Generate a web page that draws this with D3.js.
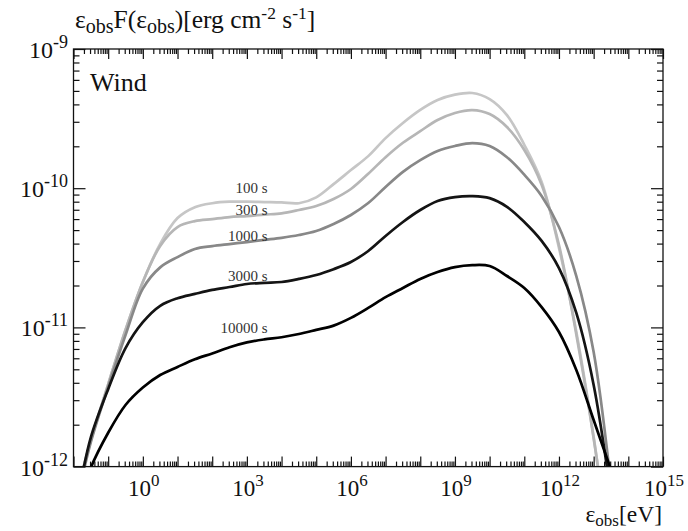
<!DOCTYPE html>
<html>
<head>
<meta charset="utf-8">
<script src="https://cdn.jsdelivr.net/npm/d3@7"></script>
<style>
  body { margin: 0; background: #fff; }
  text, tspan { font-family: "Liberation Serif", "Times New Roman"; }
</style>
</head>
<body>
<svg id="chart" width="688" height="531" font-family="Liberation Serif"></svg>
<script>
// Photon energy grid, log10(eV), half-decade steps
const energyExp = [-1.8, -1.5, -1, -0.5, 0, 0.5, 1, 1.5, 2, 2.5, 3, 3.5, 4, 4.5, 5, 5.5,
                   6, 6.5, 7, 7.5, 8, 8.5, 9, 9.5, 10, 10.5, 11, 11.5, 12, 12.5, 13, 13.5];

// Observed spectra eps*F(eps) [erg cm^-2 s^-1] at each observer time
const flux100 = [8.1e-13, 1.55e-12, 3.9e-12, 9.6e-12, 2.12e-11, 3.98e-11, 6.1e-11, 7.3e-11,
                 7.8e-11, 8.0e-11, 8.0e-11, 7.95e-11, 7.9e-11, 7.8e-11, 8.6e-11, 1.07e-10,
                 1.35e-10, 1.70e-10, 2.29e-10, 2.94e-10, 3.65e-10, 4.3e-10, 4.7e-10, 4.83e-10,
                 4.37e-10, 3.35e-10, 2.05e-10, 1.11e-10, 3.73e-11, 9.3e-12, 1.63e-12, 2.1e-13];
const flux300 = [8.1e-13, 1.55e-12, 3.9e-12, 9.6e-12, 2.12e-11, 3.85e-11, 5.26e-11, 5.8e-11,
                 6.0e-11, 6.2e-11, 6.31e-11, 6.46e-11, 6.6e-11, 6.97e-11, 7.44e-11, 8.36e-11,
                 9.87e-11, 1.27e-10, 1.67e-10, 2.12e-10, 2.57e-10, 3.09e-10, 3.47e-10, 3.64e-10,
                 3.41e-10, 2.75e-10, 1.88e-10, 1.06e-10, 3.9e-11, 8.9e-12, 1.6e-12, 2.0e-13];
const flux1000 = [7.3e-13, 1.5e-12, 3.75e-12, 8.8e-12, 1.9e-11, 2.7e-11, 3.2e-11, 3.66e-11,
                  3.84e-11, 3.97e-11, 4.1e-11, 4.25e-11, 4.4e-11, 4.61e-11, 4.93e-11, 5.53e-11,
                  6.42e-11, 7.82e-11, 1.02e-10, 1.31e-10, 1.59e-10, 1.85e-10, 2.01e-10, 2.11e-10,
                  2.01e-10, 1.67e-10, 1.25e-10, 8.8e-11, 5.26e-11, 2.34e-11, 6.65e-12, 7.4e-13];
const flux3000 = [7.4e-13, 1.62e-12, 3.6e-12, 7.1e-12, 1.09e-11, 1.43e-11, 1.62e-11, 1.74e-11,
                  1.86e-11, 1.95e-11, 2.05e-11, 2.09e-11, 2.12e-11, 2.23e-11, 2.38e-11, 2.62e-11,
                  2.95e-11, 3.54e-11, 4.54e-11, 5.72e-11, 6.97e-11, 8.09e-11, 8.63e-11, 8.77e-11,
                  8.49e-11, 7.35e-11, 5.72e-11, 4.18e-11, 2.67e-11, 1.27e-11, 3.86e-12, 6.2e-13];
const flux10000 = [5.5e-13, 9.8e-13, 1.75e-12, 2.77e-12, 3.7e-12, 4.55e-12, 5.2e-12, 5.9e-12,
                   6.5e-12, 7.2e-12, 7.8e-12, 8.2e-12, 8.5e-12, 8.97e-12, 9.6e-12, 1.03e-11,
                   1.17e-11, 1.38e-11, 1.65e-11, 1.92e-11, 2.23e-11, 2.5e-11, 2.71e-11, 2.8e-11,
                   2.76e-11, 2.34e-11, 1.92e-11, 1.4e-11, 9.27e-12, 4.95e-12, 2.16e-12, 9.5e-13];

const times = ["100 s", "300 s", "1000 s", "3000 s", "10000 s"];
const fluxes = [flux100, flux300, flux1000, flux3000, flux10000];
const lineColors = ["#c6c6c6", "#b6b6b6", "#888888", "#141414", "#000000"];

// Curve label anchors (energy of right end, flux of baseline)
const labelEnergy = 10 ** 3.6;
const labelFlux = [9.25e-11, 6.42e-11, 4.18e-11, 2.15e-11, 9.12e-12];

// Axis ticks
const xDomain = [1e-2, 1e15];
const yDomain = [1e-12, 1e-9];
const xLabelExps = [0, 3, 6, 9, 12, 15];
const yLabelExps = [-12, -11, -10, -9];

const fontName = "Liberation Serif";
const ink = "#111";

const svg = d3.select("#chart");
const plot = { left: 73.5, right: 663, top: 49, bottom: 466.6 };

const x = d3.scaleLog().domain(xDomain).range([plot.left, plot.right]);
const y = d3.scaleLog().domain(yDomain).range([plot.bottom, plot.top]);

function logTicks(lo, hi) {
  const major = [], minor = [];
  for (let e = lo; e <= hi; e++) {
    major.push(10 ** e);
    if (e < hi) for (let m = 2; m <= 9; m++) minor.push(m * 10 ** e);
  }
  return { major, minor };
}
const xt = logTicks(-2, 15);
const yt = logTicks(-12, -9);

function tickAxis(axisFn, scale, values, size, tx, ty) {
  const g = svg.append("g")
    .attr("transform", `translate(${tx},${ty})`)
    .call(axisFn(scale).tickValues(values).tickSize(size).tickFormat(""));
  g.select(".domain").remove();
  g.attr("font-family", null).attr("font-size", null);
  g.selectAll(".tick line").attr("stroke", ink).attr("stroke-width", 1.2);
  return g;
}
// inward-pointing ticks on all four sides
tickAxis(d3.axisBottom, x, xt.major, -10, 0, plot.bottom);
tickAxis(d3.axisBottom, x, xt.minor, -5, 0, plot.bottom);
tickAxis(d3.axisTop, x, xt.major, -10, 0, plot.top);
tickAxis(d3.axisTop, x, xt.minor, -5, 0, plot.top);
tickAxis(d3.axisLeft, y, yt.major, -12, plot.left, 0);
tickAxis(d3.axisLeft, y, yt.minor, -6, plot.left, 0);
tickAxis(d3.axisRight, y, yt.major, -12, plot.right, 0);
tickAxis(d3.axisRight, y, yt.minor, -6, plot.right, 0);

// curves
svg.append("clipPath").attr("id", "plotClip")
  .append("rect")
  .attr("x", plot.left).attr("y", plot.top)
  .attr("width", plot.right - plot.left).attr("height", plot.bottom - plot.top);

const line = d3.line()
  .x(d => x(d[0]))
  .y(d => y(d[1]))
  .curve(d3.curveCatmullRom.alpha(0.5));

const curves = svg.append("g").attr("clip-path", "url(#plotClip)");
fluxes.forEach((f, i) => {
  const pts = energyExp.map((e, j) => [10 ** e, f[j]]);
  curves.append("path")
    .attr("d", line(pts))
    .attr("fill", "none")
    .attr("stroke", lineColors[i])
    .attr("stroke-width", 2.7)
    .attr("stroke-linejoin", "round");
});

// frame
svg.append("rect")
  .attr("x", plot.left).attr("y", plot.top)
  .attr("width", plot.right - plot.left).attr("height", plot.bottom - plot.top)
  .attr("fill", "none").attr("stroke", ink).attr("stroke-width", 1.3);

function addText(px, py, size, anchor) {
  return svg.append("text")
    .attr("x", px).attr("y", py)
    .attr("text-anchor", anchor || "start")
    .attr("font-family", fontName)
    .attr("font-size", size)
    .attr("fill", ink);
}
function addSpan(t, str, size, dy) {
  const s = t.append("tspan").text(str);
  if (size) s.attr("font-size", size);
  if (dy) s.attr("dy", dy);
  return s;
}

// curve labels
times.forEach((t, i) => {
  addText(x(labelEnergy), y(labelFlux[i]), 15, "end").attr("fill", "#333").text(t);
});

// tick labels: 10^n
xLabelExps.forEach(e => {
  const t = addText(x(10 ** e) + 1, 496, 23, "middle");
  addSpan(t, "10");
  addSpan(t, String(e), 17, -10);
});
yLabelExps.forEach(e => {
  const t = addText(68, y(10 ** e) + 9, 24, "end");
  addSpan(t, "10");
  addSpan(t, String(e), 18, -10);
});

// panel label
addText(90, 91, 26).text("Wind");

// y-axis title
const yTitle = addText(75, 28, 25.5);
addSpan(yTitle, "ε");
addSpan(yTitle, "obs", 20, 5);
addSpan(yTitle, "F(ε", 25.5, -5);
addSpan(yTitle, "obs", 20, 5);
addSpan(yTitle, ")[erg cm", 25.5, -5);
addSpan(yTitle, "-2", 17.5, -9);
addSpan(yTitle, " s", 25.5, 9);
addSpan(yTitle, "-1", 17.5, -9);
addSpan(yTitle, "]", 25.5, 9);

// x-axis title
const xTitle = addText(662, 522, 23.5, "end");
addSpan(xTitle, "ε");
addSpan(xTitle, "obs", 17, 4);
addSpan(xTitle, "[eV]", 23.5, -4);
</script>
</body>
</html>
